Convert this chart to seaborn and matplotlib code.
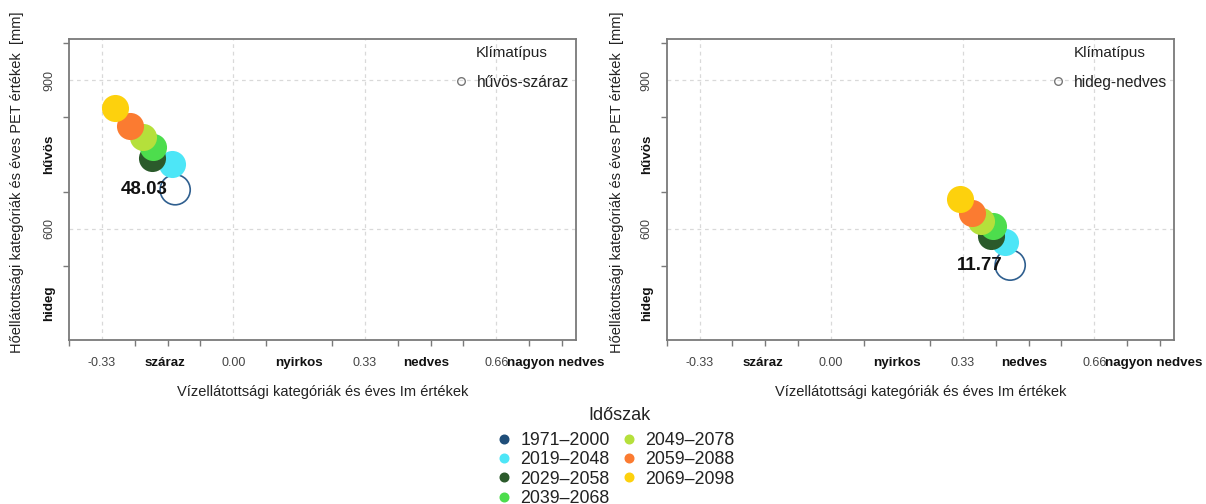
import matplotlib
matplotlib.use("Agg")
import matplotlib.pyplot as plt
from matplotlib.lines import Line2D
import numpy as np
import pandas as pd
import seaborn as sns

sns.set_theme(style="white")
plt.rcParams["font.family"] = ["Liberation Sans", "DejaVu Sans"]

# Periods and their colours
periods = ["1971\u20132000", "2019\u20132048", "2029\u20132058", "2039\u20132068",
           "2049\u20132078", "2059\u20132088", "2069\u20132098"]
colors = ["#1f4e79", "#4de6f7", "#2b5a2b", "#4ddd4d", "#b5e03b", "#fb7b31", "#fdd10d"]

# Station 1: hűvös-száraz
im_left = [-0.146, -0.155, -0.205, -0.201, -0.226, -0.259, -0.297]
pet_left = [679, 731, 743, 766, 785, 808, 844]
label_left = "48.03"
type_left = "hűvös-száraz"

# Station 2: hideg-nedves
im_right = [0.449, 0.436, 0.400, 0.407, 0.375, 0.354, 0.323]
pet_right = [527, 574, 586, 605, 615, 633, 660]
label_right = "11.77"
type_right = "hideg-nedves"

# Axis category labels
x_num_ticks = [-0.33, 0.00, 0.33, 0.66]
x_num_labels = ["-0.33", "0.00", "0.33", "0.66"]
x_cat_ticks = [-0.172, 0.165, 0.485, 0.81]
x_cat_labels = ["száraz", "nyirkos", "nedves", "nagyon nedves"]
y_num_ticks = [600, 900]
y_num_labels = ["600", "900"]
y_cat_ticks = [450, 750]
y_cat_labels = ["hideg", "hűvös"]

palette = dict(zip(periods, colors))
frame_col = "#7a7a7a"
text_col = "#222222"

fig = plt.figure(figsize=(12.06, 5.04), dpi=100)
ax_l = fig.add_axes([0.0572, 0.3254, 0.4204, 0.5972])
ax_r = fig.add_axes([0.5528, 0.3254, 0.4207, 0.5972])


def draw_panel(ax, im, pet, label, ctype, ylab_x):
    df = pd.DataFrame({"Im": im, "PET": pet, "period": periods})
    base = df.iloc[:1]
    future = df.iloc[1:]
    # reference period: hollow circle
    sns.scatterplot(data=base, x="Im", y="PET", ax=ax, s=470, facecolor="none",
                    edgecolor="#2f5f8f", linewidth=1.2, legend=False, zorder=3)
    # scenario periods: filled circles, later periods on top
    for _, row in future.iterrows():
        sns.scatterplot(x=[row["Im"]], y=[row["PET"]], ax=ax, s=380,
                        color=palette[row["period"]], linewidth=0, legend=False,
                        zorder=4)
    ax.annotate(label, (base["Im"].iloc[0], base["PET"].iloc[0]),
                xytext=(-5.5, 0), textcoords="offset points", ha="right",
                va="center", fontsize=13.5, fontweight="bold", color="#111111",
                zorder=6)

    ax.set_xlim(-0.4125, 0.86)
    ax.set_ylim(376, 983)

    # dashed grid at the numeric ticks
    for v in x_num_ticks:
        ax.axvline(v, color="#d9d9d9", lw=0.9, ls=(0, (3, 3)), zorder=0)
    for v in y_num_ticks:
        ax.axhline(v, color="#d9d9d9", lw=0.9, ls=(0, (3, 3)), zorder=0)

    # labels on major ticks (no marks), tick marks on minor ticks
    xt = x_num_ticks + x_cat_ticks
    xl = x_num_labels + x_cat_labels
    order = np.argsort(xt)
    ax.set_xticks([xt[i] for i in order])
    ax.set_xticklabels([xl[i] for i in order])
    for t in ax.get_xticklabels():
        if t.get_text() in x_cat_labels:
            t.set_fontweight("bold"); t.set_fontsize(9.6); t.set_color("#111111")
        else:
            t.set_fontsize(9.0); t.set_color("#444444")
    ax.set_xticks(np.arange(-0.4125, 0.83, 0.0825), minor=True)

    yt = y_num_ticks + y_cat_ticks
    yl = y_num_labels + y_cat_labels
    order = np.argsort(yt)
    ax.set_yticks([yt[i] for i in order])
    ax.set_yticklabels([yl[i] for i in order], rotation=90, va="center")
    for t in ax.get_yticklabels():
        if t.get_text() in y_cat_labels:
            t.set_fontweight("bold"); t.set_fontsize(9.6); t.set_color("#111111")
        else:
            t.set_fontsize(9.0); t.set_color("#444444")
    ax.set_yticks(np.arange(450, 980, 75), minor=True)

    ax.tick_params(axis="both", which="minor", direction="out", length=4.5,
                   width=1.0, color=frame_col, bottom=True, left=True)
    ax.tick_params(axis="both", which="major", length=0, bottom=True, left=True)
    ax.tick_params(axis="x", which="major", pad=12.5)
    ax.tick_params(axis="y", which="major", pad=10)
    for s in ax.spines.values():
        s.set_color(frame_col)
        s.set_linewidth(1.3)

    ax.set_xlabel("Vízellátottsági kategóriák és éves Im értékek", fontsize=10.5,
                  color=text_col, labelpad=11)
    ax.set_ylabel("Hőellátottsági kategóriák és éves PET értékek  [mm]",
                  fontsize=10.5, color=text_col)
    ax.yaxis.set_label_coords(ylab_x, 0.523)

    h = [Line2D([], [], ls="none", marker="o", markersize=5.5,
                markerfacecolor="none", markeredgecolor="#777777",
                markeredgewidth=1.0)]
    leg = ax.legend(h, [ctype], title="Klímatípus", loc="upper right",
                    frameon=False, fontsize=11.2, title_fontsize=11.0,
                    handlelength=0.8, handletextpad=0.6, borderaxespad=0.05,
                    labelspacing=0.95)
    for t in leg.get_texts():
        t.set_color(text_col)
    leg.get_title().set_color(text_col)


draw_panel(ax_l, im_left, pet_left, label_left, type_left, -0.089)
draw_panel(ax_r, im_right, pet_right, label_right, type_right, -0.085)

# period legend below the panels
fig.text(620 / 1206, 1 - 416 / 504, "Időszak", ha="center", va="center",
         fontsize=13, color=text_col)
handles = [Line2D([], [], ls="none", marker="o", markersize=6.2,
                  markerfacecolor=c, markeredgecolor=c) for c in colors]
fleg = fig.legend(handles, periods, ncol=2, loc="upper center",
                  bbox_to_anchor=(0.511, 1 - 432 / 504),
                  bbox_transform=fig.transFigure, frameon=False, fontsize=12.8,
                  handlelength=0.7, handletextpad=0.55, columnspacing=0.75,
                  labelspacing=0.13, borderaxespad=0.0, borderpad=0.0)
for t in fleg.get_texts():
    t.set_color(text_col)

fig.savefig("out.png", dpi=100)
